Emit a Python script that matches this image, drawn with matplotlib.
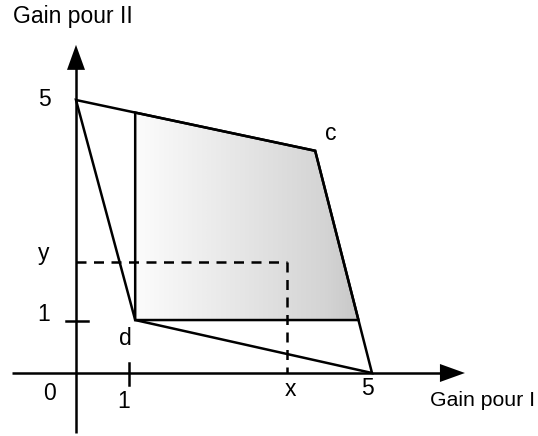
import numpy as np
import matplotlib
matplotlib.use("Agg")
import matplotlib.pyplot as plt
from matplotlib.patches import Polygon
from matplotlib.colors import LinearSegmentedColormap
import matplotlib.transforms as mtransforms

plt.rcParams['font.family'] = ['Liberation Sans', 'DejaVu Sans']

# ---- data ----
pt_top = (0.0, 5.0)      # (0,5)
pt_c = (4.04, 4.07)      # c
pt_five = (5.0, 0.0)     # (5,0)
pt_d = (1.0, 0.97)       # d
pt_xy = (3.57, 2.04)     # (x, y)
xtick_one = 0.9
ytick_one = 0.95

W, H = 538, 436
fig = plt.figure(figsize=(W / 100, H / 100), dpi=100)
ax = fig.add_axes([0, 0, 1, 1])
ox, oy, ux, uy = 76.0, 373.0, 59.2, 54.6   # layout: origin pixel, unit sizes
ax.set_xlim(-ox / ux, (W - ox) / ux)
ax.set_ylim(-(H - oy) / uy, oy / uy)
ax.axis('off')

lw = 1.8
# axes with arrows
ax.plot([-1.08, 6.2], [0, 0], color='black', lw=lw, solid_capstyle='butt')
ax.plot([0, 0], [-1.10, 5.6], color='black', lw=lw, solid_capstyle='butt')
hl_x, hw_x = 25 / ux, 9 / uy
ax.add_patch(Polygon([(6.57, 0), (6.57 - hl_x, hw_x), (6.57 - hl_x, -hw_x)],
                     closed=True, color='black', lw=0))
hl_y, hw_y = 25 / uy, 9 / ux
ax.add_patch(Polygon([(0, 6.01), (-hw_y, 6.01 - hl_y), (hw_y, 6.01 - hl_y)],
                     closed=True, color='black', lw=0))
# ticks
ax.plot([xtick_one, xtick_one], [-12 / uy, 10 / uy], color='black', lw=lw)
ax.plot([-10 / ux, 12 / ux], [ytick_one, ytick_one], color='black', lw=lw)

# shaded region: from d up to top line, along to c, down the right line to y of d
y_top_at_d = np.interp(pt_d[0], [pt_top[0], pt_c[0]], [pt_top[1], pt_c[1]])
x_right_at_d = np.interp(pt_d[1], [pt_five[1], pt_c[1]], [pt_five[0], pt_c[0]])
shade_pts = [(pt_d[0], y_top_at_d), pt_c, (x_right_at_d, pt_d[1]), pt_d]
shade = Polygon(shade_pts, closed=True, facecolor='none', edgecolor='black',
                lw=lw, joinstyle='miter', zorder=3)
ax.add_patch(shade)
cmap = LinearSegmentedColormap.from_list('g', [(0, '#fcfcfc'), (0.85, '#d4d4d4'), (1, '#c8c8c8')])
grad = np.linspace(0, 1, 256).reshape(1, -1)
im = ax.imshow(grad, cmap=cmap, aspect='auto', interpolation='bilinear',
               extent=[pt_d[0], x_right_at_d, pt_d[1], y_top_at_d], zorder=1)
im.set_clip_path(shade)

# outer quadrilateral
quad = Polygon([pt_top, pt_c, pt_five, pt_d], closed=True, facecolor='none',
               edgecolor='black', lw=lw, joinstyle='miter', zorder=4)
ax.add_patch(quad)

# dashed guides
ax.plot([0, pt_xy[0]], [pt_xy[1], pt_xy[1]], color='black', lw=lw,
        linestyle=(0, (4.0, 3.0)), zorder=2)
ax.plot([pt_xy[0], pt_xy[0]], [pt_xy[1], 0], color='black', lw=lw,
        linestyle=(0, (4.0, 3.0)), zorder=2)

# text, positioned in pixels (from top-left)
pix = mtransforms.Affine2D().scale(1, -1).translate(0, H)
fs = 16.5
def txt(px, py, s, ha='center', size=fs):
    ax.text(px, py, s, transform=pix, ha=ha, va='baseline', fontsize=size, color='black')

txt(13, 23, 'Gain pour II', ha='left')
txt(535, 406, 'Gain pour I', ha='right', size=15.3)
txt(44.5, 106, '5')
txt(43.6, 260, 'y')
txt(44, 321, '1')
txt(49, 400, '0')
txt(124, 408, '1')
txt(290, 396, 'x')
txt(367, 395, '5')
txt(125, 345, 'd')
txt(331, 140, 'c')

fig.savefig('out.png', dpi=100)
